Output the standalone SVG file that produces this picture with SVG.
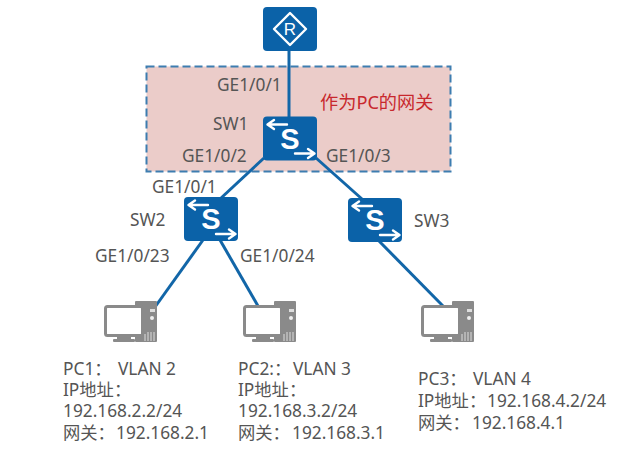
<svg xmlns="http://www.w3.org/2000/svg" width="639" height="463" viewBox="0 0 639 463">
  <defs>
    <style>
      text { font-family: "Noto Sans", "Noto Sans CJK SC", sans-serif; font-size: 17.3px; fill: #555; }
      .red { fill: #c8282d; font-size: 18.200px; }
      .link { stroke: #1266a8; stroke-width: 3; fill: none; }
      .box { fill: #0b62a8; }
      .glyph { stroke: #fff; stroke-width: 2.400; fill: none; stroke-linecap: round; stroke-linejoin: round; }
      .letter { font-family: "Liberation Sans", sans-serif; font-weight: 700; font-size: 29px; fill: #fff; text-anchor: middle; }
      .pc-frame { fill: #fff; stroke: #8a8a8a; stroke-width: 3; }
      .pc-solid { fill: #8a8a8a; }
    </style>
    <g id="switch-icon">
      <rect class="box" width="54" height="44" rx="4"/>
      <path class="glyph" d="M24 8H5M11 3.500L4.500 8L11 12.500"/>
      <path class="glyph" d="M32 37H51M45 32.500L51.500 37L45 41.500"/>
      <text class="letter" x="27" y="32">S</text>
    </g>
    <g id="pc-icon">
      <rect class="pc-solid" x="31" y="-4" width="22" height="41" rx="1"/>
      <rect x="46" y="4" width="5" height="3" fill="#ddd"/>
      <circle cx="48" cy="13" r="2" fill="#eee"/>
      <path d="M41 36V29M44 36V27M47 36V27M50 36V27" stroke="#ddd" stroke-width="1"/>
      <rect class="pc-frame" x="1.500" y="1.500" width="37" height="29" rx="2"/>
      <rect class="pc-solid" x="13" y="31" width="14" height="3"/>
      <rect class="pc-solid" x="9" y="34" width="22" height="3" rx="1"/>
    </g>
  </defs>

  <rect id="gateway-zone" x="146.500" y="66.500" width="304" height="105" fill="#ebccc9" stroke="#3d7db0" stroke-width="2" stroke-dasharray="8 4"/>

  <g id="connectors">
    <path class="link" d="M289 50V118"/>
    <path class="link" d="M264 158L220 199"/>
    <path class="link" d="M316 158L362 199"/>
    <path class="link" d="M203 240L155 307"/>
    <path class="link" d="M220 240L258 306"/>
    <path class="link" d="M379 241L443 306"/>
  </g>

  <g id="router">
    <rect class="box" x="263" y="7" width="54" height="44" rx="4"/>
    <path class="glyph" d="M290 13L306 29L290 45L274 29Z"/>
    <text x="290" y="35" text-anchor="middle" style="fill:#fff;font-size:17px;font-family:'Liberation Sans',sans-serif">R</text>
  </g>
  <g id="sw1"><use href="#switch-icon" x="263" y="116.500"/></g>
  <g id="sw2"><use href="#switch-icon" x="184" y="197"/></g>
  <g id="sw3"><use href="#switch-icon" x="348" y="198"/></g>
  <g id="pc1"><use href="#pc-icon" x="104" y="305"/></g>
  <g id="pc2"><use href="#pc-icon" x="243" y="305"/></g>
  <g id="pc3"><use href="#pc-icon" x="421" y="305"/></g>

  <g id="labels">
    <text x="217" y="91">GE1/0/1</text>
    <text class="red" x="320" y="109">作为PC的网关</text>
    <text x="213" y="130">SW1</text>
    <text x="182" y="162">GE1/0/2</text>
    <text x="326" y="162">GE1/0/3</text>
    <text x="152" y="193">GE1/0/1</text>
    <text x="130" y="226">SW2</text>
    <text x="414" y="227">SW3</text>
    <text x="95" y="262">GE1/0/23</text>
    <text x="240" y="262">GE1/0/24</text>
    <text x="63" y="375">PC1：<tspan x="118">VLAN 2</tspan></text>
    <text x="63" y="396">IP地址：</text>
    <text x="63" y="417">192.168.2.2/24</text>
    <text x="63" y="439">网关：<tspan x="116">192.168.2.1</tspan></text>
    <text x="238" y="375">PC2:：<tspan x="293">VLAN 3</tspan></text>
    <text x="238" y="396">IP地址：</text>
    <text x="238" y="417">192.168.3.2/24</text>
    <text x="238" y="439">网关：<tspan x="292">192.168.3.1</tspan></text>
    <text x="418" y="385">PC3：<tspan x="473">VLAN 4</tspan></text>
    <text x="418" y="407">IP地址：<tspan x="487">192.168.4.2/24</tspan></text>
    <text x="418" y="429">网关：<tspan x="472">192.168.4.1</tspan></text>
  </g>
</svg>
